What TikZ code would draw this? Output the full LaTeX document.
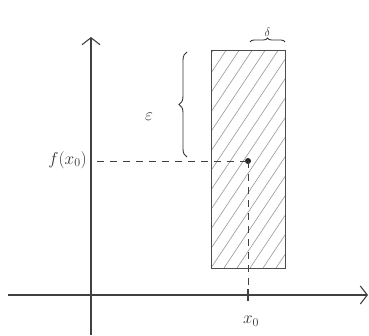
\documentclass[tikz,border=0pt]{standalone}
\usetikzlibrary{arrows.meta,patterns,decorations.pathreplacing}
\begin{document}
\begin{tikzpicture}[x=1pt,y=-1pt,
  axisline/.style={line width=1.1pt,draw=black!75,-{Straight Barb[length=7pt,width=18pt]}},
  dashline/.style={line width=1pt,draw=black!75,dash pattern=on 7pt off 6pt},
  bracestyle/.style={line width=0.9pt,draw=black!80,decorate},
  lbl/.style={font=\fontsize{18}{20}\selectfont,text=black!80},
  slbl/.style={font=\fontsize{13}{15}\selectfont,text=black!80}]
\useasboundingbox (0,0) rectangle (369,335);
% region
\coordinate (rtl) at (211,50);
\coordinate (rbr) at (285,268);
\begin{scope}
  \clip (rtl) rectangle (rbr);
  \foreach \i in {-260,-247,...,100}
    \draw[black!40,line width=0.6pt] (211+\i,268) -- ++(260,-260*1.5);
\end{scope}
\draw[line width=1pt,draw=black!70] (rtl) rectangle (rbr);
% axes
\coordinate (xs) at (8,295);
\coordinate (xe) at (368,295);
\coordinate (ys) at (91,335);
\coordinate (ye) at (91,37);
\draw[axisline] (xs) -- (xe);
\draw[axisline] (ys) -- (ye);
% point
\node[circle,fill=black!85,inner sep=0pt,minimum size=6pt] (p) at (248,161) {};
\coordinate (fy) at (97,161);
\coordinate (xt) at (248,295);
\draw[dashline] (fy) -- (p.center);
\draw[dashline] (p.center) -- (xt);
\draw[line width=1.1pt,black!75] (248,289) -- (248,301);
% labels
\node[lbl,anchor=east,inner sep=1pt] (fx) at (88,160) {$f(x_0)$};
\node[lbl] (x0) at (251,321) {$x_0$};
% braces
\coordinate (eb1) at (187,157);
\coordinate (eb2) at (187,52);
\draw[bracestyle,decoration={brace,amplitude=8pt}] (eb1) -- (eb2);
\node[lbl] (eps) at (149,117) {$\varepsilon$};
\coordinate (db1) at (250,42);
\coordinate (db2) at (285,42);
\draw[bracestyle,decoration={brace,amplitude=4pt}] (db1) -- (db2) node[midway,above=2pt,slbl] (del) {$\delta$};
\end{tikzpicture}
\end{document}
